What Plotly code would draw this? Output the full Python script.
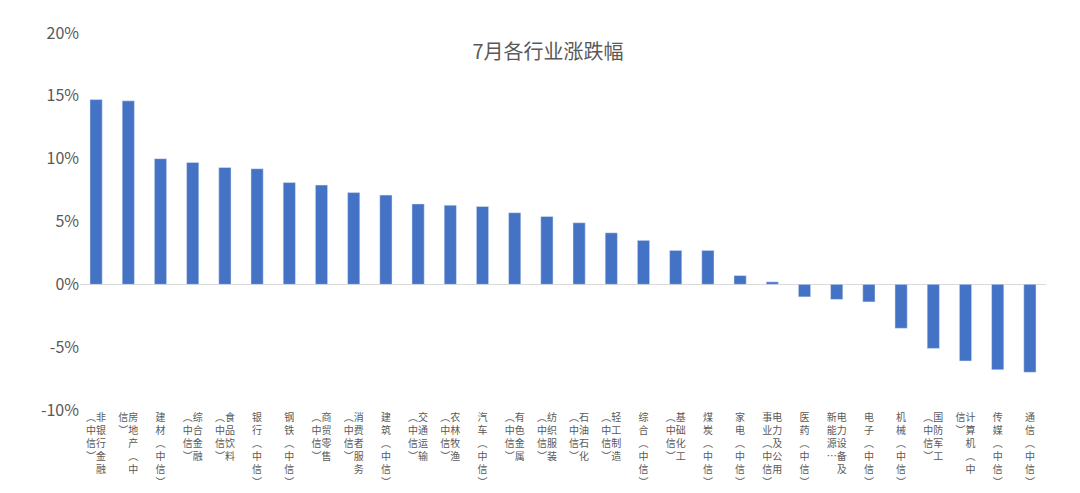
import plotly.graph_objects as go

# (right column, left column) of the vertical labels
label_cols = [
    ("非银行金融", "︵中信︶"), ("房地产︵中", "信︶"), ("建材︵中信︶", ""),
    ("综合金融", "︵中信︶"), ("食品饮料", "︵中信︶"), ("银行︵中信︶", ""),
    ("钢铁︵中信︶", ""), ("商贸零售", "︵中信︶"), ("消费者服务", "︵中信︶"),
    ("建筑︵中信︶", ""), ("交通运输", "︵中信︶"), ("农林牧渔", "︵中信︶"),
    ("汽车︵中信︶", ""), ("有色金属", "︵中信︶"), ("纺织服装", "︵中信︶"),
    ("石油石化", "︵中信︶"), ("轻工制造", "︵中信︶"), ("综合︵中信︶", ""),
    ("基础化工", "︵中信︶"), ("煤炭︵中信︶", ""), ("家电︵中信︶", ""),
    ("电力及公用", "事业︵中信︶"), ("医药︵中信︶", ""), ("电力设备及", "新能源…"),
    ("电子︵中信︶", ""), ("机械︵中信︶", ""), ("国防军工", "︵中信︶"),
    ("计算机︵中", "信︶"), ("传媒︵中信︶", ""), ("通信︵中信︶", ""),
]
values = [14.7, 14.6, 10.0, 9.7, 9.3, 9.2, 8.1, 7.9, 7.3, 7.1, 6.4, 6.3, 6.2, 5.7,
          5.4, 4.9, 4.1, 3.5, 2.7, 2.7, 0.7, 0.2, -1.0, -1.2, -1.4, -3.5, -5.1,
          -6.1, -6.8, -7.0]
y_ticks = [-10, -5, 0, 5, 10, 15, 20]


def vertical(right, left):
    n = max(len(right), len(left))
    rows = []
    for i in range(n):
        r = right[i] if i < len(right) else "　"
        if left:
            l = left[i] if i < len(left) else "　"
            rows.append(l + r)
        else:
            rows.append(r)
    return "<br>".join(rows)


ticktext = [vertical(r, l) for r, l in label_cols]
x = list(range(len(values)))

fig = go.Figure(go.Bar(x=x, y=values, marker_color="#4472C4"))
fig.update_layout(
    width=1080, height=493,
    margin=dict(l=72, r=42, t=20, b=79),
    plot_bgcolor="white", paper_bgcolor="white",
    font=dict(family="Noto Sans CJK SC", color="#595959"),
    title=dict(text="7月各行业涨跌幅", x=0.5, y=0.925, xanchor="center",
               font=dict(size=20, color="#595959")),
    bargap=0.62, showlegend=False,
)
fig.update_xaxes(tickvals=x, ticktext=ticktext, tickangle=0, showgrid=False,
                 tickfont=dict(size=10), range=[-0.5, len(values) - 0.5])
fig.update_yaxes(range=[-10, 20], tickvals=y_ticks,
                 ticktext=[f"{v}%" for v in y_ticks], showgrid=False,
                 zeroline=True, zerolinecolor="#D9D9D9", zerolinewidth=1,
                 tickfont=dict(size=16), ticks="", ticklen=0)
fig.write_html("out.html")
